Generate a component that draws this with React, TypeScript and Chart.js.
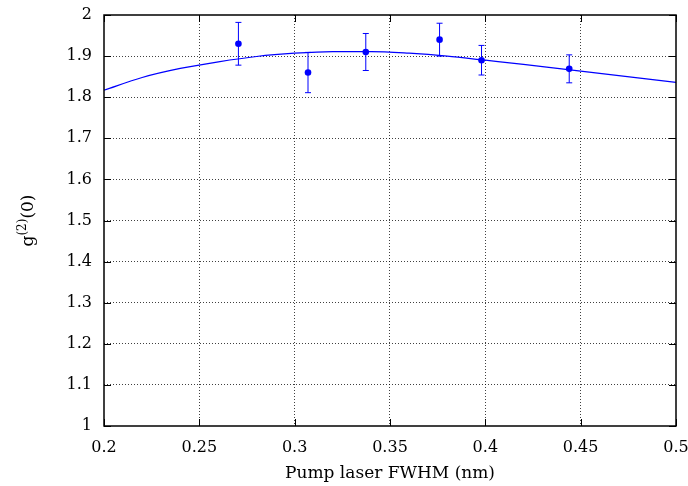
import React, { useEffect, useRef } from "react";
import { Chart, registerables } from "chart.js";

Chart.register(...registerables);

// Measured data points
const pointX = [0.2705, 0.307, 0.3373, 0.376, 0.398, 0.444];
const pointY = [1.93, 1.86, 1.91, 1.94, 1.89, 1.869];
const pointErr = [0.052, 0.049, 0.045, 0.04, 0.036, 0.034];

// Fit curve
const curveX = [0.2, 0.22, 0.24, 0.26, 0.28, 0.3, 0.32, 0.34, 0.36, 0.38, 0.4, 0.42, 0.44, 0.46, 0.48, 0.5];
const curveY = [1.817, 1.848, 1.87, 1.886, 1.899, 1.907, 1.911, 1.911, 1.907, 1.9, 1.89, 1.88, 1.869, 1.858, 1.847, 1.836];

const xTicks = [0.2, 0.25, 0.3, 0.35, 0.4, 0.45, 0.5];
const yTicks = [1, 1.1, 1.2, 1.3, 1.4, 1.5, 1.6, 1.7, 1.8, 1.9, 2];

const xTitle = "Pump laser FWHM (nm)";
const yTitleMain = "g";
const yTitleSup = "(2)";
const yTitleTail = "(0)";

const FONT = "'DejaVu Serif', serif";
const BLUE = "#0000ff";

const framePlugin = {
  id: "frame",
  afterDatasetsDraw(chart: any) {
    const { ctx, chartArea: a, scales } = chart;
    const xs = scales.x;
    const ys = scales.y;
    ctx.save();
    // error bars
    ctx.strokeStyle = BLUE;
    ctx.lineWidth = 1;
    for (let i = 0; i < pointX.length; i++) {
      const px = xs.getPixelForValue(pointX[i]);
      const top = ys.getPixelForValue(pointY[i] + pointErr[i]);
      const bot = ys.getPixelForValue(pointY[i] - pointErr[i]);
      ctx.beginPath();
      ctx.moveTo(px, top);
      ctx.lineTo(px, bot);
      ctx.moveTo(px - 3, top);
      ctx.lineTo(px + 3, top);
      ctx.moveTo(px - 3, bot);
      ctx.lineTo(px + 3, bot);
      ctx.stroke();
    }
    // inward ticks
    ctx.strokeStyle = "#000";
    ctx.lineWidth = 1;
    const L = 7;
    ctx.beginPath();
    for (const v of xTicks) {
      const px = Math.round(xs.getPixelForValue(v)) + 0.5;
      ctx.moveTo(px, a.bottom);
      ctx.lineTo(px, a.bottom - L);
      ctx.moveTo(px, a.top);
      ctx.lineTo(px, a.top + L);
    }
    for (const v of yTicks) {
      const py = Math.round(ys.getPixelForValue(v)) + 0.5;
      ctx.moveTo(a.left, py);
      ctx.lineTo(a.left + L, py);
      ctx.moveTo(a.right, py);
      ctx.lineTo(a.right - L, py);
    }
    ctx.stroke();
    // border
    ctx.lineWidth = 1.5;
    ctx.strokeRect(a.left, a.top, a.right - a.left, a.bottom - a.top);
    // y title
    ctx.fillStyle = "#000";
    ctx.textBaseline = "alphabetic";
    ctx.textAlign = "left";
    const mainFont = `17px ${FONT}`;
    const supFont = `12px ${FONT}`;
    ctx.font = mainFont;
    const w1 = ctx.measureText(yTitleMain).width;
    const w3 = ctx.measureText(yTitleTail).width;
    ctx.font = supFont;
    const w2 = ctx.measureText(yTitleSup).width;
    const W = w1 + w2 + w3;
    ctx.translate(33, (a.top + a.bottom) / 2);
    ctx.rotate(-Math.PI / 2);
    let x = -W / 2;
    ctx.font = mainFont;
    ctx.fillText(yTitleMain, x, 0);
    x += w1;
    ctx.font = supFont;
    ctx.fillText(yTitleSup, x, -7);
    x += w2;
    ctx.font = mainFont;
    ctx.fillText(yTitleTail, x, 0);
    ctx.restore();
  },
};

export default function App() {
  const ref = useRef<HTMLCanvasElement>(null);
  useEffect(() => {
    if (!ref.current) return;
    const chart = new Chart(ref.current, {
      type: "scatter",
      data: {
        datasets: [
          {
            label: "fit",
            data: curveX.map((x, i) => ({ x, y: curveY[i] })),
            showLine: true,
            borderColor: BLUE,
            borderWidth: 1.2,
            pointRadius: 0,
            cubicInterpolationMode: "monotone",
          },
          {
            label: "data",
            data: pointX.map((x, i) => ({ x, y: pointY[i] })),
            showLine: false,
            backgroundColor: BLUE,
            borderColor: BLUE,
            pointRadius: 3.3,
            borderWidth: 0,
          },
        ],
      },
      options: {
        responsive: false,
        animation: false,
        layout: { padding: { top: 15, right: 12, left: 0, bottom: 0 } },
        plugins: { legend: { display: false }, tooltip: { enabled: false } },
        scales: {
          x: {
            type: "linear",
            min: 0.2,
            max: 0.5,
            afterBuildTicks: (s: any) => {
              s.ticks = xTicks.map((v) => ({ value: v }));
            },
            afterFit: (s: any) => {
              s.height = 60;
              s.paddingLeft = 0;
              s.paddingRight = 0;
            },
            ticks: {
              color: "#000",
              font: { family: FONT, size: 16 },
              padding: 12,
              maxRotation: 0,
              callback: (v: any) => String(Math.round(Number(v) * 100) / 100),
            },
            grid: {
              drawTicks: false,
              color: (c: any) =>
                c.tick && (c.tick.value <= 0.2001 || c.tick.value >= 0.4999) ? "rgba(0,0,0,0)" : "rgba(0,0,0,0.75)",
              lineWidth: 1,
            },
            border: { display: false, dash: [1, 2] },
            title: {
              display: true,
              text: xTitle,
              color: "#000",
              font: { family: FONT, size: 17 },
              padding: { top: 4, bottom: 2 },
            },
          },
          y: {
            type: "linear",
            min: 1,
            max: 2,
            afterBuildTicks: (s: any) => {
              s.ticks = yTicks.map((v) => ({ value: v }));
            },
            afterFit: (s: any) => {
              s.width = 104;
              s.paddingTop = 0;
              s.paddingBottom = 0;
            },
            ticks: {
              color: "#000",
              font: { family: FONT, size: 16 },
              padding: 12,
              callback: (v: any) => String(Math.round(Number(v) * 10) / 10),
            },
            grid: {
              drawTicks: false,
              color: (c: any) =>
                c.tick && (c.tick.value <= 1.0001 || c.tick.value >= 1.9999) ? "rgba(0,0,0,0)" : "rgba(0,0,0,0.75)",
              lineWidth: 1,
            },
            border: { display: false, dash: [1, 2] },
          },
        },
      } as any,
      plugins: [framePlugin],
    });
    return () => chart.destroy();
  }, []);
  return (
    <div style={{ position: "absolute", left: 0, top: 0, width: 688, height: 486, background: "#fff" }}>
      <canvas ref={ref} width={688} height={486} style={{ display: "block" }} />
    </div>
  );
}
